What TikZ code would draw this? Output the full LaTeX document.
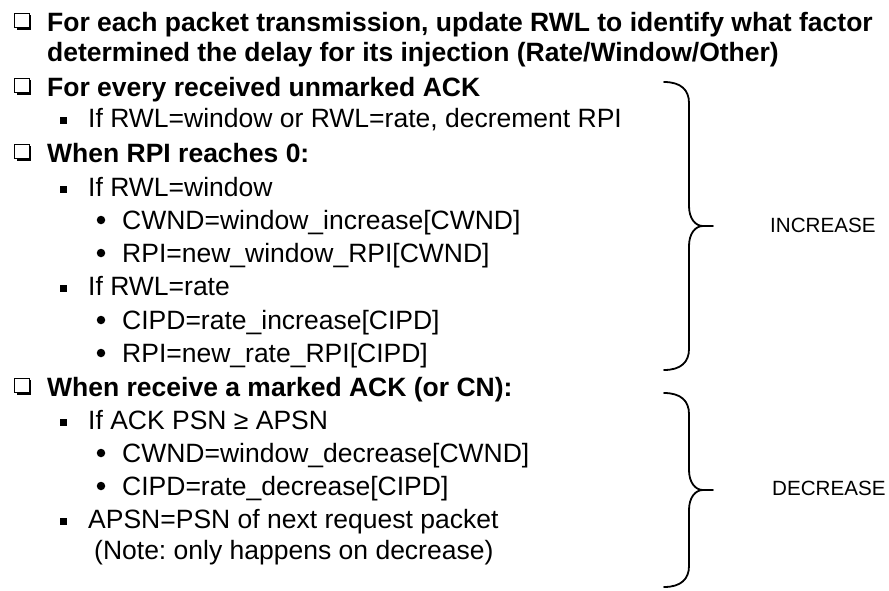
\documentclass[tikz,border=0pt]{standalone}
\usepackage{fontspec}
\setmainfont{Liberation Sans}
\usetikzlibrary{positioning,shadows,calc}
\frenchspacing

\tikzset{
  item/.style={inner sep=0pt, anchor=base west, font=\fontsize{26.5}{31}\selectfont},
  head/.style={item, font=\fontsize{26.5}{31}\selectfont\bfseries},
  boxmark/.style={draw, fill=white, line width=1.3pt, minimum size=14.5pt, inner sep=0pt,
    general shadow={fill=black, shadow xshift=2.2pt, shadow yshift=-2.2pt}},
  sqmark/.style={fill, minimum size=7pt, inner sep=0pt},
  dotmark/.style={circle, fill, minimum size=8.5pt, inner sep=0pt},
  tag/.style={inner sep=0pt, anchor=west, font=\fontsize{20.6}{24}\selectfont},
  bracepath/.style={line width=1.8pt, line cap=round, line join=round}
}

% right-hand curly brace between two coordinates on the same x
\newcommand{\rightcurly}[2]{%
  \draw[bracepath] let \p1=(#1), \p2=(#2), \n1={(\y1+\y2)/2} in
    (\p1) .. controls +(17pt,0pt) and +(0pt,13pt) .. (\x1+25pt,\y1-21pt)
    -- (\x1+25pt,\n1+20pt)
    .. controls +(0pt,-12pt) and +(-8pt,0pt) .. (\x1+39pt,\n1)
    -- (\x1+49pt,\n1)
    (\x1+39pt,\n1) .. controls +(-8pt,0pt) and +(0pt,12pt) .. (\x1+25pt,\n1-20pt)
    -- (\x1+25pt,\y2+21pt)
    .. controls +(0pt,-13pt) and +(17pt,0pt) .. (\p2);}

\begin{document}
\begin{tikzpicture}[x=1pt,y=-1pt]
\useasboundingbox (0,0) rectangle (889,590);

% increase rules
\node[head] (h1) at (47,31) {For each packet transmission, update RWL to identify what factor};
\node[head] (h2) at (47,61) {determined the delay for its injection (Rate/Window/Other)};
\node[head] (h3) at (47,96) {For every received unmarked ACK};
\node[item] (t4) at (88,127) {If RWL=window or RWL=rate, decrement RPI};
\node[head] (h5) at (47,162) {When RPI reaches 0:};
\node[item] (t6) at (88,196) {If RWL=window};
\node[item] (t7) at (122,229) {CWND=window\_increase[CWND]};
\node[item] (t8) at (122,262) {RPI=new\_window\_RPI[CWND]};
\node[item] (t9) at (88,295) {If RWL=rate};
\node[item] (t10) at (122,329) {CIPD=rate\_increase[CIPD]};
\node[item] (t11) at (122,362) {RPI=new\_rate\_RPI[CIPD]};

% decrease rules
\node[head] (h12) at (47,396) {When receive a marked ACK (or CN):};
\node[item] (t13) at (88,429) {If ACK PSN ≥ APSN};
\node[item] (t14) at (122,462) {CWND=window\_decrease[CWND]};
\node[item] (t15) at (122,495) {CIPD=rate\_decrease[CIPD]};
\node[item] (t16) at (88,528) {APSN=PSN of next request packet};
\node[item] (t17) at (94,559) {(Note: only happens on decrease)};

% bullets
\foreach \t in {h1,h3,h5,h12}
  \node[boxmark] (\t m) at ([shift={(-25pt,10.5pt)}]\t.base west) {};
\foreach \t in {t4,t6,t9,t13,t16}
  \node[sqmark] (\t m) at ([shift={(-25pt,6.5pt)}]\t.base west) {};
\foreach \t in {t7,t8,t10,t11,t14,t15}
  \node[dotmark] (\t m) at ([shift={(-21pt,9pt)}]\t.base west) {};

% braces
\coordinate (inctop) at (664,82);
\coordinate (incbot) at (664,370);
\coordinate (dectop) at (664,393);
\coordinate (decbot) at (664,587);
\rightcurly{inctop}{incbot}
\rightcurly{dectop}{decbot}

\node[tag] (inc) at (770,225) {INCREASE};
\node[tag] (dec) at (772,488) {DECREASE};
\end{tikzpicture}
\end{document}
